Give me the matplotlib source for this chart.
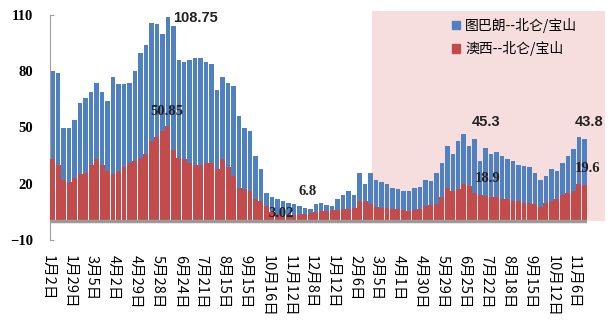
import matplotlib
matplotlib.use('Agg')
import matplotlib.pyplot as plt
import matplotlib.transforms as mtransforms
from matplotlib.patches import Rectangle, Patch
import numpy as np

plt.rcParams['font.family'] = ['Noto Sans CJK SC', 'DejaVu Sans']

# weekly freight rates, USD/t
brazil = [80, 79, 50, 50, 54, 63, 66, 69, 74, 69, 64, 77, 73, 73, 74, 80, 90, 94, 106, 105,
          100, 108.75, 104, 86, 85, 86, 87, 87, 85, 84, 70, 77, 74, 72, 56, 50, 48, 35, 28, 15,
          13, 12, 11, 10, 9, 8, 7, 6.8, 9, 9.5, 8.5, 8, 12, 14, 16, 14, 26, 20, 26, 22,
          21, 20, 18, 17, 16, 16, 18, 18.5, 22, 21.5, 26, 31, 40, 36, 43, 46.5, 40, 44, 32, 39,
          36, 37, 35, 33, 32, 30, 29.5, 29, 26, 22, 24, 28, 27, 31, 35, 38.5, 45, 43.8]
australia = [33, 30, 22, 21, 23, 25, 26, 30, 33, 30, 27, 25, 27, 29, 31, 32, 34, 36, 43, 45,
             48, 50.85, 38, 34, 33, 31, 30, 30, 31, 31, 28, 33, 29, 24, 18, 17, 16, 12, 11, 8,
             5, 4, 3.02, 3.5, 3.5, 4, 4, 4.5, 5, 5.5, 5.5, 6, 6, 6.5, 6.5, 7, 11, 11, 9, 7.5,
             7, 7, 6.5, 6.5, 6, 5.5, 6, 6.5, 8, 8.5, 9, 13, 18, 16, 17, 20, 19, 15, 14, 13.5,
             13, 13, 12, 12, 11, 11, 10, 9.5, 9, 7.5, 10, 11, 12, 14, 15, 16, 20, 19.6]
tick_labels = ['1月2日', '1月29日', '3月5日', '4月2日', '4月29日', '5月28日', '6月24日',
               '7月21日', '8月15日', '9月15日', '10月16日', '11月12日', '12月8日', '1月12日',
               '2月6日', '3月5日', '4月1日', '4月30日', '5月29日', '6月25日', '7月22日',
               '8月18日', '9月15日', '10月12日', '11月6日']
names = ['图巴朗--北仑/宝山', '澳西--北仑/宝山']

# (text, x index, y value, serif?)
notes = [('108.75', 26.0, 108.3, False), ('50.85', 20.8, 58.7, True),
         ('6.8', 46.6, 15.7, True), ('3.02', 41.7, 4.1, True),
         ('45.3', 79.0, 53.0, False), ('18.9', 79.3, 22.6, True),
         ('43.8', 97.8, 53.0, False), ('19.6', 97.6, 28.4, True)]

blue = '#4F80C0'
red = '#C24B4B'

fig = plt.figure(figsize=(6.09, 3.25), dpi=100)
ax = fig.add_axes([50 / 609, 85 / 325, 537 / 609, 225 / 325])

x = np.arange(len(brazil))
ax.add_patch(Rectangle((58.3, 0), 100.8 - 58.3, 111.9, facecolor='#F7DEDE',
                       edgecolor='none', zorder=0, clip_on=False))
ax.bar(x, brazil, width=0.82, color=blue, zorder=2)
ax.bar(x, australia, width=0.9, color=red, zorder=3)
ax.axhline(0, color='#9a9a9a', lw=2.5, zorder=4)

ax.set_xlim(-0.5, len(brazil) - 0.5)
ax.set_ylim(-10, 110)
ax.set_yticks([-10, 20, 50, 80, 110])
ax.tick_params(axis='y', direction='in', length=3, color='#a0a0a0', pad=12)
for lab in ax.get_yticklabels():
    lab.set_fontfamily('Liberation Serif')
    lab.set_fontweight('bold')
    lab.set_fontsize(10.5)

ax.set_xticks(x[::4], tick_labels, rotation=270, fontsize=10.5)
ax.tick_params(axis='x', length=0, pad=11)
shift = mtransforms.ScaledTranslation(-4.5 / 100, 0, fig.dpi_scale_trans)
for lab in ax.get_xticklabels():
    lab.set_transform(lab.get_transform() + shift)

for s in ['top', 'right', 'bottom']:
    ax.spines[s].set_visible(False)
ax.spines['left'].set_color('#a0a0a0')
ax.set_facecolor('none')

for txt, xi, yi, serif in notes:
    ax.text(xi, yi, txt, ha='center', va='center', fontsize=10.5, fontweight='bold',
            color='#222222', zorder=5,
            family='Liberation Serif' if serif else 'Liberation Sans')

handles = [Patch(color=blue), Patch(color=red)]
ax.legend(handles, names, loc='upper left', bbox_to_anchor=(452 / 609, 1 - 18 / 325),
          bbox_transform=fig.transFigure, frameon=False, fontsize=10,
          handlelength=0.55, handleheight=0.55, handletextpad=0.4, labelspacing=0.6,
          borderpad=0, borderaxespad=0)

fig.savefig('out.png', dpi=100)
